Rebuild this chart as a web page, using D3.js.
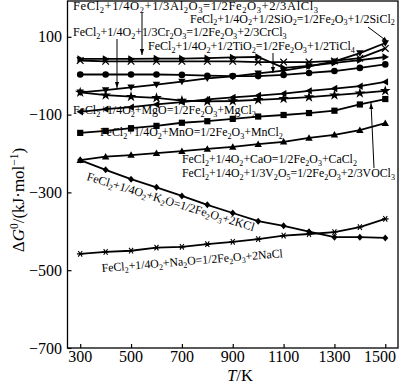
<!DOCTYPE html>
<html><head><meta charset="utf-8">
<script src="https://cdn.jsdelivr.net/npm/d3@7"></script>
<style>
body{margin:0;background:#fff}
svg{display:block}
text{font-family:"Liberation Serif","Times New Roman",serif;fill:#000}
</style>
</head><body>
<svg id="c" width="400" height="388"></svg>
<script>
// ---------------- data ----------------
const temperatures = [300,400,500,600,700,800,900,1000,1100,1200,1300,1400,1500];
const xTicks = [300,500,700,900,1100,1300,1500];
const yTicks = [100,-100,-300,-500,-700];

const dG_Al2O3 = [39,37,37,37,37,37,37,35,35,35,38,45,70];
const dG_TiO2  = [43,43,43,44,44,45,47,48,20,25,33,40,48];
const dG_Cr2O3 = [3,3,3,3,2,0,-1,-1,2,7,12,20,29];
const dG_SiO2  = [-43,-37,-30,-23,-15,-7,-2,6,13,24,37,58,84];
const dG_V2O5  = [-43,-50,-54,-57,-64,-66,-65,-62,-59,-55,-50,-45,-39];
const dG_MgO   = [-93,-86,-81,-74,-68,-61,-56,-51,-46,-39,-33,-27,-16];
const dG_MnO   = [-147,-142,-135,-129,-121,-117,-111,-105,-101,-96,-90,-74,-60];
const dG_CaO   = [-217,-208,-204,-199,-194,-188,-183,-176,-170,-160,-152,-140,-122];
const dG_K2O   = [-217,-242,-266,-287,-309,-332,-353,-374,-386,-401,-415,-415,-417];
const dG_Na2O  = [-458,-453,-450,-442,-440,-433,-427,-420,-411,-407,-402,-389,-368];

const seriesNames   = ["Al2O3","TiO2","Cr2O3","SiO2","V2O5","MgO","MnO","CaO","K2O","Na2O"];
const seriesValues  = [dG_Al2O3,dG_TiO2,dG_Cr2O3,dG_SiO2,dG_V2O5,dG_MgO,dG_MnO,dG_CaO,dG_K2O,dG_Na2O];
const seriesMarkers = ["cross","triRight","circle","triDown","star","triLeft","square","triUp","diamond","asterisk"];

const labelTexts = [
  "FeCl_2+1/4O_2+1/3Al_2O_3=1/2Fe_2O_3+2/3AlCl_3",
  "FeCl_2+1/4O_2+1/2SiO_2=1/2Fe_2O_3+1/2SiCl_2",
  "FeCl_2+1/4O_2+1/3Cr_2O_3=1/2Fe_2O_3+2/3CrCl_3",
  "FeCl_2+1/4O_2+1/2TiO_2=1/2Fe_2O_3+1/2TiCl_4",
  "FeCl_2+1/4O_2+MgO=1/2Fe_2O_3+MgCl_2",
  "FeCl_2+1/4O_2+MnO=1/2Fe_2O_3+MnCl_2",
  "FeCl_2+1/4O_2+CaO=1/2Fe_2O_3+CaCl_2",
  "FeCl_2+1/4O_2+1/3V_2O_5=1/2Fe_2O_3+2/3VOCl_3",
  "FeCl_2+1/4O_2+K_2O=1/2Fe_2O_3+2KCl",
  "FeCl_2+1/4O_2+Na_2O=1/2Fe_2O_3+2NaCl"
];

// ---------------- layout ----------------
const svg = d3.select("#c");
const x = d3.scaleLinear().domain([250,1550]).range([67.5,398]);
const y = d3.scaleLinear().domain([-700,192]).range([348,1]);

// frame
svg.append("rect").attr("x",67.5).attr("y",1).attr("width",330.5).attr("height",347)
  .attr("fill","none").attr("stroke","#000").attr("stroke-width",1.3);

// x axis ticks (inward)
const xAxis = d3.axisTop(x).tickValues(xTicks).tickSize(4).tickFormat("");
const gx = svg.append("g").attr("transform","translate(0,348)").call(xAxis);
gx.select(".domain").remove();
gx.selectAll("line").attr("stroke","#000").attr("stroke-width",1.2);
svg.append("g").selectAll("text").data(xTicks).join("text")
  .attr("x",d=>Math.min(x(d),380)).attr("y",362).attr("text-anchor","middle")
  .attr("font-size",16).text(d=>d);

// y axis ticks (inward)
const yAxis = d3.axisRight(y).tickValues(yTicks).tickSize(4).tickFormat("");
const gy = svg.append("g").attr("transform","translate(67.5,0)").call(yAxis);
gy.select(".domain").remove();
gy.selectAll("line").attr("stroke","#000").attr("stroke-width",1.2);
svg.append("g").selectAll("text").data(yTicks).join("text")
  .attr("x",62).attr("y",d=>y(d)+5.5).attr("text-anchor","end")
  .attr("font-size",16).text(d=>d<0?"\u2212"+Math.abs(d):d);

// axis titles
const xt = svg.append("text").attr("x",240).attr("y",381).attr("text-anchor","middle").attr("font-size",16.5);
xt.append("tspan").attr("font-style","italic").text("T");
xt.append("tspan").text("/K");

const yt = svg.append("text").attr("transform","translate(24,200) rotate(-90)")
  .attr("text-anchor","middle").attr("font-size",17);
yt.append("tspan").text("\u0394");
yt.append("tspan").attr("font-style","italic").text("G");
yt.append("tspan").attr("font-size",11.5).attr("dy",-6.5).text("0");
yt.append("tspan").attr("dy",6.5).text("/(kJ\u00b7mol");
yt.append("tspan").attr("font-size",11.5).attr("dy",-6.5).text("\u22121");
yt.append("tspan").attr("dy",6.5).text(")");

// lines
const line = d3.line().x((d,i)=>x(temperatures[i])).y(d=>y(d));
const gLines = svg.append("g");
seriesValues.forEach((vals,k)=>{
  gLines.append("path").datum(vals).attr("d",line)
    .attr("fill","none").attr("stroke","#000").attr("stroke-width",1.8);
});

// markers
function drawMarker(g,type,cx,cy){
  const s = 3.3;
  switch(type){
    case "cross":
      g.append("path").attr("d",`M${cx-s},${cy-s}L${cx+s},${cy+s}M${cx-s},${cy+s}L${cx+s},${cy-s}`)
        .attr("stroke","#000").attr("stroke-width",1.2).attr("fill","none"); break;
    case "asterisk":
      g.append("path").attr("d",`M${cx-s},${cy}L${cx+s},${cy}M${cx-s*0.6},${cy-s*0.85}L${cx+s*0.6},${cy+s*0.85}M${cx-s*0.6},${cy+s*0.85}L${cx+s*0.6},${cy-s*0.85}`)
        .attr("stroke","#000").attr("stroke-width",1.1).attr("fill","none"); break;
    case "circle":
      g.append("circle").attr("cx",cx).attr("cy",cy).attr("r",3.3); break;
    case "square":
      g.append("rect").attr("x",cx-3.1).attr("y",cy-3.1).attr("width",6.2).attr("height",6.2); break;
    case "diamond":
      g.append("path").attr("d",`M${cx},${cy-3.5}L${cx+3},${cy}L${cx},${cy+3.5}L${cx-3},${cy}Z`); break;
    case "star":
      g.append("path").attr("d",d3.symbol(d3.symbolStar,36)()).attr("transform",`translate(${cx},${cy})`); break;
    case "triUp":
      g.append("path").attr("d",`M${cx},${cy-3.7}L${cx+3.7},${cy+2.8}L${cx-3.7},${cy+2.8}Z`); break;
    case "triDown":
      g.append("path").attr("d",`M${cx},${cy+3.7}L${cx+3.7},${cy-2.8}L${cx-3.7},${cy-2.8}Z`); break;
    case "triLeft":
      g.append("path").attr("d",`M${cx-3.7},${cy}L${cx+2.8},${cy-3.7}L${cx+2.8},${cy+3.7}Z`); break;
    case "triRight":
      g.append("path").attr("d",`M${cx+3.7},${cy}L${cx-2.8},${cy-3.7}L${cx-2.8},${cy+3.7}Z`); break;
  }
}
const gMarks = svg.append("g").attr("fill","#000");
seriesValues.forEach((vals,k)=>{
  vals.forEach((v,i)=>drawMarker(gMarks,seriesMarkers[k],x(temperatures[i]),y(v)));
});

// labels: chemical formulas with subscripts
function chemText(parent,str,fs){
  const t = parent.append("text").attr("font-size",fs);
  const parts = [];
  let buf="";
  for(let i=0;i<str.length;i++){
    if(str[i]==="_"){ if(buf){parts.push({s:buf,sub:false});buf="";} parts.push({s:str[i+1],sub:true}); i++; }
    else buf+=str[i];
  }
  if(buf) parts.push({s:buf,sub:false});
  let shifted=false;
  const off = fs*0.22;
  parts.forEach(p=>{
    const ts = t.append("tspan").text(p.s);
    if(p.sub){ ts.attr("font-size",fs*0.68); if(!shifted){ts.attr("dy",off); shifted=true;} }
    else if(shifted){ ts.attr("dy",-off); shifted=false; }
  });
  return t;
}
const labelPos = [
  {x:73,y:10,w:245,a:0},
  {x:190,y:22.5,w:205,a:0},
  {x:73,y:36,w:214,a:0},
  {x:148,y:50,w:207,a:0},
  {x:73,y:114,w:183,a:0},
  {x:100,y:136,w:183,a:0},
  {x:182,y:163,w:175,a:0},
  {x:182,y:177,w:213,a:0},
  {x:86,y:180,w:175,a:17},
  {x:102,y:272,w:182,a:-4.7}
];
const gLab = svg.append("g");
labelTexts.forEach((s,k)=>{
  const p = labelPos[k];
  const g = gLab.append("g").attr("transform",`translate(${p.x},${p.y}) rotate(${p.a})`);
  const base = 12;
  const t = chemText(g,s,base);
  const w = t.node().getComputedTextLength();
  const fs = Math.min(12.6, base * p.w / w);
  g.selectAll("*").remove();
  const t2 = chemText(g,s,fs);
  const w2 = t2.node().getComputedTextLength();
  if (w2 < p.w - 1) t2.attr("textLength", p.w).attr("lengthAdjust","spacing");
});

// leader arrows
svg.append("defs").append("marker").attr("id","ah").attr("viewBox","0 0 10 10")
  .attr("refX",10).attr("refY",5).attr("markerWidth",6).attr("markerHeight",6)
  .attr("orient","auto").append("path").attr("d","M0,1.5L10,5L0,8.5Z").attr("fill","#000");
const arrows = [
  [142,13,142,55],
  [117,39,117,88],
  [273,53,273,73],
  [368,27,388,42],
  [374,168,371,103]
];
svg.append("g").selectAll("line").data(arrows).join("line")
  .attr("x1",d=>d[0]).attr("y1",d=>d[1]).attr("x2",d=>d[2]).attr("y2",d=>d[3])
  .attr("stroke","#000").attr("stroke-width",1).attr("marker-end","url(#ah)");
</script>
</body></html>
